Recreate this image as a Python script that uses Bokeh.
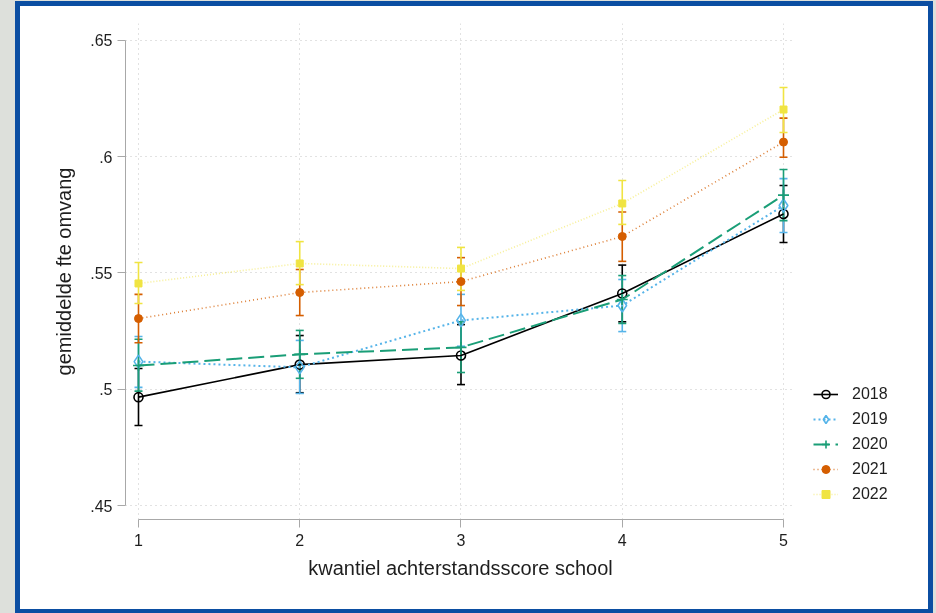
from bokeh.plotting import figure
from bokeh.models import (Range1d, FixedTicker, Whisker, TeeHead, ColumnDataSource,
                          Legend, LegendItem)
from bokeh.embed import file_html
from bokeh.resources import INLINE

# ---- data ----
quantiles = [1, 2, 3, 4, 5]
years = ["2018", "2019", "2020", "2021", "2022"]

mean_2018 = [0.4966, 0.5106, 0.5145, 0.5412, 0.5754]
lo_2018 = [0.4844, 0.4985, 0.5020, 0.5290, 0.5631]
hi_2018 = [0.5089, 0.5231, 0.5278, 0.5534, 0.5876]

mean_2019 = [0.5119, 0.5094, 0.5296, 0.5360, 0.5790]
lo_2019 = [0.5008, 0.4982, 0.5185, 0.5248, 0.5674]
hi_2019 = [0.5227, 0.5210, 0.5408, 0.5472, 0.5906]

mean_2020 = [0.5102, 0.5150, 0.5180, 0.5386, 0.5835]
lo_2020 = [0.4992, 0.5047, 0.5072, 0.5283, 0.5725]
hi_2020 = [0.5215, 0.5253, 0.5290, 0.5489, 0.5945]

mean_2021 = [0.5304, 0.5416, 0.5463, 0.5657, 0.6063]
lo_2021 = [0.5200, 0.5317, 0.5360, 0.5550, 0.5998]
hi_2021 = [0.5408, 0.5515, 0.5566, 0.5762, 0.6166]

mean_2022 = [0.5455, 0.5541, 0.5519, 0.5799, 0.6203]
lo_2022 = [0.5369, 0.5450, 0.5425, 0.5709, 0.6104]
hi_2022 = [0.5545, 0.5635, 0.5610, 0.5898, 0.6298]

x_ticks = [1, 2, 3, 4, 5]
y_ticks = [0.45, 0.5, 0.55, 0.6, 0.65]
y_tick_labels = [".45", ".5", ".55", ".6", ".65"]

x_title = "kwantiel achterstandsscore school"
y_title = "gemiddelde fte omvang"

series = {
    "2018": (mean_2018, lo_2018, hi_2018),
    "2019": (mean_2019, lo_2019, hi_2019),
    "2020": (mean_2020, lo_2020, hi_2020),
    "2021": (mean_2021, lo_2021, hi_2021),
    "2022": (mean_2022, lo_2022, hi_2022),
}

# ---- styles ----
style = {
    "2018": dict(color="#000000", dash="solid", lw=1.6, alpha=1.0,
                 marker="circle", size=9, filled=False),
    "2019": dict(color="#56b4e9", dash="2 3", lw=2.0, alpha=1.0,
                 marker="diamond", size=13, filled=False),
    "2020": dict(color="#1a9e77", dash="16 6", lw=2.0, alpha=1.0,
                 marker="cross", size=11, filled=False),
    "2021": dict(color="#d55e00", dash="1 3", lw=1.6, alpha=0.8,
                 marker="circle", size=8, filled=True),
    "2022": dict(color="#f0e442", dash="1 2", lw=1.6, alpha=0.55,
                 marker="square", size=7, filled=True),
}

FONT = "Liberation Sans"
TEXT = "#1e1e1e"
AXIS = "#a8a8a8"

p = figure(frame_width=670, frame_height=496,
           output_backend="svg", toolbar_location=None,
           x_range=Range1d(0.9194, 5.0744), y_range=Range1d(0.44398, 0.6573),
           min_border_left=105, min_border_right=133,
           min_border_top=17, min_border_bottom=90,
           background_fill_color="white", border_fill_color="white",
           outline_line_color=None)

p.styles = {"position": "fixed", "left": "20px", "top": "6px",
            "width": "908px", "height": "603px", "overflow": "hidden",
            "outline": "5px solid #0b4ea2",
            "box-shadow": "0 0 0 40px #dde0db"}

# axes
for ax in (p.xaxis[0], p.yaxis[0]):
    ax.axis_line_color = AXIS
    ax.major_tick_line_color = AXIS
    ax.minor_tick_line_color = None
    ax.major_tick_in = 0
    ax.major_tick_out = 8
    ax.major_label_text_font = FONT
    ax.major_label_text_font_size = "16px"
    ax.major_label_text_color = TEXT
    ax.axis_label_text_font = FONT
    ax.axis_label_text_font_size = "20px"
    ax.axis_label_text_font_style = "normal"
    ax.axis_label_text_color = TEXT

p.xaxis[0].ticker = FixedTicker(ticks=x_ticks)
p.xaxis[0].bounds = (x_ticks[0], x_ticks[-1])
p.xaxis[0].axis_label = x_title
p.xaxis[0].major_label_standoff = 6
p.xaxis[0].axis_label_standoff = 8

p.yaxis[0].ticker = FixedTicker(ticks=y_ticks)
p.yaxis[0].bounds = (y_ticks[0], y_ticks[-1])
p.yaxis[0].major_label_overrides = {t: l for t, l in zip(y_ticks, y_tick_labels)}
p.yaxis[0].major_label_orientation = "horizontal"
p.yaxis[0].axis_label = y_title
p.yaxis[0].major_label_standoff = 5
p.yaxis[0].axis_label_standoff = 12

# grids
for g in (p.xgrid[0], p.ygrid[0]):
    g.grid_line_color = "#c4c4c4"
    g.grid_line_dash = "1 4"
    g.grid_line_width = 1
p.xgrid[0].ticker = FixedTicker(ticks=x_ticks)
p.ygrid[0].ticker = FixedTicker(ticks=y_ticks)

items = []
for yr in years:
    m, lo, hi = series[yr]
    s = style[yr]
    src = ColumnDataSource(dict(x=quantiles, y=m, lo=lo, hi=hi))
    w = Whisker(source=src, base="x", lower="lo", upper="hi",
                line_color=s["color"], line_width=1.6,
                upper_head=TeeHead(size=8, line_color=s["color"], line_width=1.6),
                lower_head=TeeHead(size=8, line_color=s["color"], line_width=1.6))
    p.add_layout(w)
    lr = p.line("x", "y", source=src, line_color=s["color"], line_width=s["lw"],
                line_dash=s["dash"], line_alpha=s["alpha"])
    if s["filled"]:
        sr = p.scatter("x", "y", source=src, marker=s["marker"], size=s["size"],
                       fill_color=s["color"], line_color=s["color"])
    else:
        sr = p.scatter("x", "y", source=src, marker=s["marker"], size=s["size"],
                       fill_alpha=0, line_color=s["color"], line_width=1.6)
    items.append(LegendItem(label=yr, renderers=[lr, sr]))

legend = Legend(items=items, location=(18, 15), padding=0, margin=0,
                border_line_color=None, background_fill_alpha=0,
                glyph_width=25, glyph_height=20, label_height=20, spacing=5,
                label_standoff=14, label_text_font=FONT,
                label_text_font_size="16px", label_text_color=TEXT)
p.add_layout(legend, "right")

open("out.html", "w").write(file_html(p, INLINE))
